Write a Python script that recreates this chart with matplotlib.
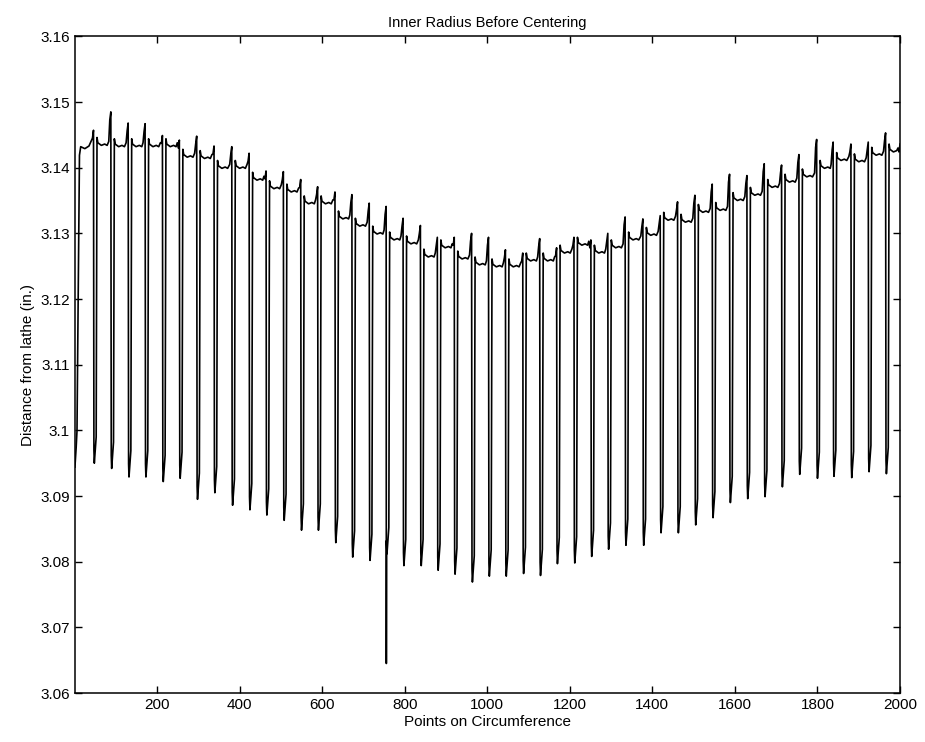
import matplotlib
matplotlib.use("Agg")
import matplotlib.pyplot as plt
from matplotlib.ticker import FuncFormatter

# x position of each sharp drop (points on circumference)
DROP_X = [46, 88, 130, 171, 213, 254, 296, 338, 381, 423,
          464, 506, 548, 589, 631, 672, 714, 755, 796, 838,
          879, 920, 962, 1003, 1044, 1086, 1127, 1168, 1210, 1251,
          1292, 1334, 1377, 1419, 1461, 1503, 1545, 1587, 1629, 1671,
          1713, 1755, 1798, 1838, 1881, 1923, 1965]

# peak just before each drop, plus the value at x = 2000
PEAK = [3.1457, 3.1485, 3.1468, 3.1467, 3.1449, 3.1442, 3.1448, 3.1433, 3.1432, 3.1422,
        3.1395, 3.1394, 3.1382, 3.1371, 3.1363, 3.1359, 3.1346, 3.1341, 3.1323, 3.1312,
        3.1294, 3.1294, 3.1300, 3.1294, 3.1275, 3.1270, 3.1292, 3.1278, 3.1294, 3.1290,
        3.1300, 3.1325, 3.1322, 3.1327, 3.1348, 3.1358, 3.1375, 3.1390, 3.1388, 3.1406,
        3.1404, 3.1420, 3.1443, 3.1439, 3.1436, 3.1439, 3.1453]
END_VALUE = 3.1436

# plateau level of each tooth (first one is the start of the record)
PLATEAU = [3.1429,
           3.1434, 3.1432, 3.1432, 3.1432, 3.1432, 3.1416, 3.1414, 3.1399, 3.1399, 3.1381,
           3.1368, 3.1363, 3.1345, 3.1345, 3.1322, 3.1311, 3.1299, 3.1290, 3.1284, 3.1264,
           3.1278, 3.1261, 3.1252, 3.1249, 3.1249, 3.1258, 3.1258, 3.1270, 3.1282, 3.1270,
           3.1278, 3.1290, 3.1297, 3.1320, 3.1317, 3.1332, 3.1335, 3.1350, 3.1358, 3.1370,
           3.1378, 3.1386, 3.1399, 3.1411, 3.1409, 3.1419, 3.1424]

# bottom of each tooth (first one is the start of the record)
BOTTOM = [3.0944,
          3.0950, 3.0942, 3.0929, 3.0929, 3.0922, 3.0927, 3.0895, 3.0905, 3.0886, 3.0879,
          3.0871, 3.0863, 3.0848, 3.0848, 3.0829, 3.0807, 3.0802, 3.0812, 3.0794, 3.0794,
          3.0787, 3.0781, 3.0769, 3.0778, 3.0778, 3.0782, 3.0779, 3.0797, 3.0798, 3.0808,
          3.0819, 3.0825, 3.0825, 3.0844, 3.0844, 3.0856, 3.0867, 3.0890, 3.0896, 3.0899,
          3.0914, 3.0933, 3.0927, 3.0930, 3.0928, 3.0937, 3.0934]

# single glitch reading
SPIKE_X = [755]
SPIKE_Y = [3.0645]

# tooth profile: (offset after drop, offset above level)
FOOT = [(1.0, 0.002), (2.0, 0.0), (6.5, 0.004)]
TOP = [(8.5, 0.0012), (10.5, 0.0004), (19.0, 0.0), (27.0, 0.0002), (33.0, 0.0)]


def build_trace():
    xs, ys = [], []
    # start of record: climbing out of the first notch
    b0, q0 = BOTTOM[0], PLATEAU[0]
    for x, y in [(1, b0), (4, b0 + 0.003), (6, b0 + 0.0055), (12, q0 - 0.001),
                 (15, q0 + 0.0003), (25, q0), (35, q0 + 0.0004)]:
        xs.append(x); ys.append(y)
    xs += [DROP_X[0] - 2.5, DROP_X[0]]
    ys += [PEAK[0] - 0.0012, PEAK[0]]

    ends = DROP_X[1:] + [2000]
    peaks = PEAK[1:] + [END_VALUE]
    for k, d in enumerate(DROP_X):
        b, q = BOTTOM[k + 1], PLATEAU[k + 1]
        L = ends[k] - d
        if d in SPIKE_X:
            xs.append(d + 0.5); ys.append(SPIKE_Y[SPIKE_X.index(d)])
        for off, dy in FOOT:
            xs.append(d + off); ys.append(b + dy)
        for off, dy in TOP:
            if off < L - 5:
                xs.append(d + off); ys.append(q + dy)
        xs += [d + L - 5, d + L - 2.5, d + L]
        ys += [q + 0.0006, peaks[k] - 0.0012, peaks[k]]
    return xs, ys


plt.rcParams["font.family"] = ["Liberation Sans", "DejaVu Sans"]

fig = plt.figure(figsize=(9.25, 7.42), dpi=100)
ax = fig.add_axes([0.081, 0.066, 0.892, 0.885])

x, y = build_trace()
ax.plot(x, y, color="black", lw=1.2)

ax.set_xlim(1, 2000)
ax.set_ylim(3.06, 3.16)
ax.set_xticks(range(200, 2001, 200))
ax.set_yticks([3.06 + 0.01 * i for i in range(11)])
ax.yaxis.set_major_formatter(FuncFormatter(lambda v, p: "%g" % round(v, 4)))
ax.tick_params(direction="in", top=True, right=True, length=5, width=1,
               labelsize=11)
for s in ax.spines.values():
    s.set_linewidth(1.1)

ax.set_title("Inner Radius Before Centering", fontsize=10.5, pad=7)
ax.set_xlabel("Points on Circumference", fontsize=11, labelpad=2)
ax.set_ylabel("Distance from lathe (in.)", fontsize=11, labelpad=4)

fig.savefig("out.png", dpi=100)
